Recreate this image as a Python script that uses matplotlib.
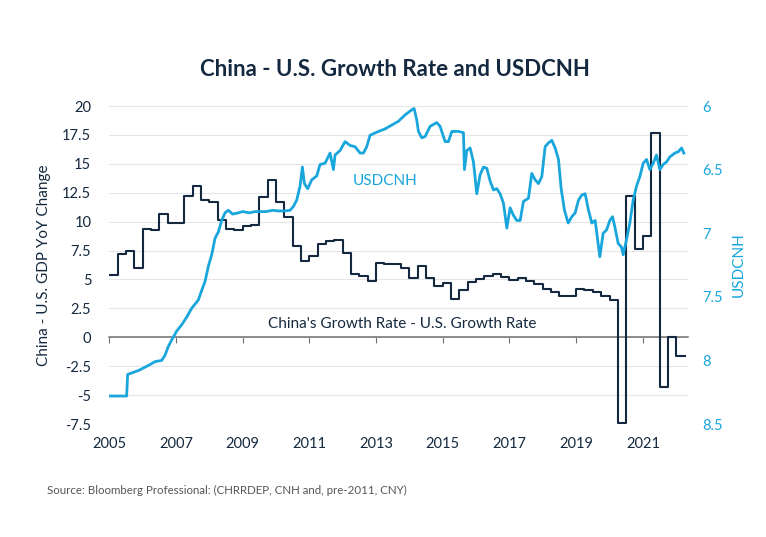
import numpy as np
import matplotlib.pyplot as plt

plt.rcParams["font.family"] = ["Lato", "DejaVu Sans"]

NAVY = "#14293f"
CYAN = "#18a6dc"

# China - U.S. GDP YoY change difference, quarterly (quarter start, decimal year)
gdp_quarters = np.arange(2005.0, 2022.01, 0.25)
gdp_diff = [
    5.4, 7.2, 7.5, 6.0,
    9.4, 9.3, 10.7, 9.9,
    9.9, 12.2, 13.1, 11.9,
    11.7, 10.1, 9.4, 9.3,
    9.6, 9.7, 12.1, 13.6,
    11.7, 10.4, 7.9, 6.6,
    7.05, 8.1, 8.3, 8.45,
    7.3, 5.45, 5.3, 4.9,
    6.45, 6.3, 6.3, 6.0,
    5.15, 6.2, 5.1, 4.4,
    4.7, 3.3, 4.1, 4.8,
    5.0, 5.3, 5.45, 5.25,
    4.95, 5.1, 4.9, 4.65,
    4.15, 3.95, 3.6, 3.6,
    4.2, 4.1, 3.95, 3.6,
    3.2, -7.45, 12.2, 7.6,
    8.8, 17.7, -4.3, 0.0,
    -1.6,
]
gdp_end = 2022.25

# USDCNH (pre-2011 CNY)
fx_time = [
    2005.00, 2005.52, 2005.55, 2005.87, 2006.17, 2006.37, 2006.57, 2006.67,
    2006.77, 2006.87, 2007.02, 2007.17, 2007.32, 2007.47, 2007.67, 2007.77,
    2007.87, 2007.97, 2008.07, 2008.17, 2008.27, 2008.37, 2008.47, 2008.57,
    2008.70, 2008.87, 2009.00, 2009.20, 2009.37, 2009.55, 2009.70, 2009.90,
    2010.07, 2010.25, 2010.42, 2010.52, 2010.62, 2010.72, 2010.79, 2010.85,
    2010.95, 2011.07, 2011.22, 2011.32, 2011.47, 2011.62, 2011.72, 2011.77,
    2011.92, 2012.07, 2012.22, 2012.37, 2012.52, 2012.62, 2012.72, 2012.82,
    2013.07, 2013.27, 2013.47, 2013.67, 2013.87, 2014.07, 2014.14, 2014.22,
    2014.27, 2014.37, 2014.47, 2014.62, 2014.82, 2014.92, 2015.07, 2015.17,
    2015.27, 2015.47, 2015.62, 2015.65, 2015.72, 2015.82, 2015.92, 2016.02,
    2016.12, 2016.22, 2016.32, 2016.42, 2016.52, 2016.62, 2016.72, 2016.82,
    2016.92, 2017.02, 2017.12, 2017.22, 2017.32, 2017.42, 2017.57, 2017.67,
    2017.77, 2017.87, 2017.97, 2018.07, 2018.17, 2018.27, 2018.37, 2018.47,
    2018.55, 2018.65, 2018.76, 2018.87, 2018.97, 2019.07, 2019.17, 2019.27,
    2019.37, 2019.47, 2019.57, 2019.66, 2019.71, 2019.81, 2019.91, 2020.01,
    2020.09, 2020.16, 2020.26, 2020.36, 2020.41, 2020.51, 2020.61, 2020.71,
    2020.81, 2020.91, 2021.01, 2021.11, 2021.21, 2021.31, 2021.41, 2021.51,
    2021.61, 2021.71, 2021.81, 2021.96, 2022.06, 2022.16, 2022.23,
]
fx_rate = [
    8.28, 8.28, 8.11, 8.08, 8.04, 8.01, 8.00, 7.96,
    7.89, 7.84, 7.77, 7.72, 7.66, 7.59, 7.525, 7.45,
    7.38, 7.26, 7.17, 7.04, 6.99, 6.90, 6.84, 6.82,
    6.85, 6.84, 6.83, 6.84, 6.83, 6.83, 6.83, 6.82,
    6.825, 6.825, 6.82, 6.79, 6.74, 6.63, 6.48, 6.61,
    6.65, 6.58, 6.55, 6.46, 6.45, 6.37, 6.50, 6.385,
    6.35, 6.28, 6.31, 6.32, 6.37, 6.37, 6.32, 6.23,
    6.20, 6.18, 6.15, 6.12, 6.07, 6.03, 6.02, 6.11,
    6.20, 6.25, 6.24, 6.16, 6.13, 6.16, 6.28, 6.28,
    6.20, 6.20, 6.21, 6.50, 6.35, 6.33, 6.44, 6.69,
    6.54, 6.48, 6.49, 6.59, 6.66, 6.65, 6.69, 6.765,
    6.96, 6.80, 6.86, 6.90, 6.90, 6.75, 6.725, 6.53,
    6.58, 6.61, 6.555, 6.32, 6.29, 6.27, 6.33, 6.42,
    6.65, 6.82, 6.92, 6.87, 6.84, 6.74, 6.70, 6.69,
    6.82, 6.92, 6.90, 7.08, 7.185, 7.00, 6.975, 6.90,
    6.87, 6.95, 7.08, 7.11, 7.17, 7.05, 6.92, 6.74,
    6.63, 6.555, 6.45, 6.42, 6.50, 6.45, 6.385, 6.50,
    6.46, 6.44, 6.40, 6.37, 6.36, 6.33, 6.37,
]

left_ticks = [20, 17.5, 15, 12.5, 10, 7.5, 5, 2.5, 0, -2.5, -5, -7.5]
right_ticks = [6, 6.5, 7, 7.5, 8, 8.5]
year_ticks = [2005, 2007, 2009, 2011, 2013, 2015, 2017, 2019, 2021]

fig = plt.figure(figsize=(7.66, 5.37), dpi=100)
ax = fig.add_axes([0.1427, 0.2104, 0.7553, 0.5922])

# growth difference, step line
x_step = list(gdp_quarters) + [gdp_end]
y_step = gdp_diff + [gdp_diff[-1]]
ax.step(x_step, y_step, where="post", color=NAVY, lw=1.5, zorder=3)

ax.set_xlim(2005, 2022.35)
ax.set_ylim(-7.5, 20)
ax.set_yticks(left_ticks)
ax.set_yticklabels([f"{v:g}" for v in left_ticks])
ax.yaxis.grid(True, color="#e6e6e6", lw=0.8)
ax.set_axisbelow(True)
ax.tick_params(axis="y", length=0, pad=13, labelsize=10.5, labelcolor=NAVY)
ax.set_ylabel("China - U.S. GDP YoY Change", color=NAVY, fontsize=11, labelpad=8)

for s in ["top", "left", "right"]:
    ax.spines[s].set_visible(False)
ax.spines["bottom"].set_position(("data", 0))
ax.spines["bottom"].set_color("#707070")
ax.spines["bottom"].set_linewidth(1.1)
ax.set_xticks(year_ticks)
ax.tick_params(axis="x", direction="out", length=4, color="#707070", labelbottom=False)

# year labels below the plot
sec = ax.secondary_xaxis("bottom")
sec.set_xticks(year_ticks)
sec.set_xticklabels([str(y) for y in year_ticks])
sec.tick_params(length=0, pad=9, labelsize=10.5, labelcolor=NAVY)
sec.spines["bottom"].set_visible(False)

# USDCNH on inverted right axis
ax2 = ax.twinx()
ax2.plot(fx_time, fx_rate, color=CYAN, lw=2.0, zorder=4)
ax2.set_ylim(8.5, 6)
ax2.set_yticks(right_ticks)
ax2.set_yticklabels([f"{v:g}" for v in right_ticks])
ax2.tick_params(axis="y", length=0, pad=10, labelsize=10.5, labelcolor=CYAN)
ax2.set_ylabel("USDCNH", color=CYAN, fontsize=11, labelpad=7)
for s in ax2.spines.values():
    s.set_visible(False)

ax.text(2012.3, 13.5, "USDCNH", color=CYAN, fontsize=11, va="center", ha="left")
ax.text(2009.75, 1.15, "China's Growth Rate - U.S. Growth Rate", color=NAVY,
        fontsize=11, va="center", ha="left")

fig.text(0.516, 0.87, "China - U.S. Growth Rate and USDCNH", color=NAVY,
         fontsize=16, fontweight="bold", ha="center", va="center")
fig.text(0.061, 0.087, "Source: Bloomberg Professional: (CHRRDEP, CNH and, pre-2011, CNY)",
         color="#555555", fontsize=8.3, ha="left", va="center")

fig.savefig("out.png", dpi=100, facecolor="white")
